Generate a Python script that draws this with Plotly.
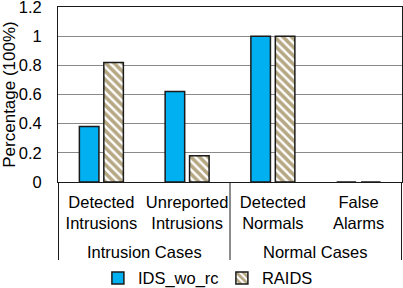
import plotly.graph_objects as go

groups = ["Intrusion Cases", "Intrusion Cases", "Normal Cases", "Normal Cases"]
categories = ["Detected<br>Intrusions", "Unreported<br>Intrusions", "Detected<br>Normals", "False<br>Alarms"]
ids_wo_rc = [0.38, 0.62, 1.0, 0.0]
raids = [0.82, 0.18, 1.0, 0.0]
y_ticks = [0, 0.2, 0.4, 0.6, 0.8, 1, 1.2]
y_ticktext = ["0", "0.2", "0.4", "0.6", "0.8", "1", "1.2"]

font = "Liberation Sans, Arial, sans-serif"

fig = go.Figure()
fig.add_trace(go.Bar(
    x=categories, y=ids_wo_rc, name="IDS_wo_rc",
    marker=dict(color="#00B0F0", line=dict(color="#1a1a1a", width=1.5)),
))
fig.add_trace(go.Bar(
    x=categories, y=raids, name="RAIDS",
    marker=dict(color="white", line=dict(color="#1a1a1a", width=1.5),
                pattern=dict(shape="\\", fgcolor="#6E520A", bgcolor="white",
                             size=6, solidity=0.6)),
))

# group labels and dividers derived from the group list
unique_groups = list(dict.fromkeys(groups))
boundaries = [-0.5]
for g in unique_groups:
    idx = [i for i, gg in enumerate(groups) if gg == g]
    boundaries.append(max(idx) + 0.5)
    fig.add_annotation(x=sum(idx) / len(idx), xref="x", y=-0.40, yref="paper",
                       text=g, showarrow=False, yanchor="middle",
                       font=dict(size=16.5, family=font, color="black"))
for b in boundaries:
    fig.add_shape(type="line", xref="x", yref="paper", x0=b, x1=b, y0=0, y1=-0.446,
                  line=dict(color="#1a1a1a", width=1))

fig.update_layout(
    width=403, height=288,
    margin=dict(l=58, r=1, t=7, b=106, autoexpand=False),
    paper_bgcolor="white", plot_bgcolor="white",
    font=dict(family=font, size=16.5, color="black"),
    barmode="group", bargap=0.43, bargroupgap=0.2,
    showlegend=True,
    legend=dict(orientation="h", x=0.116, xanchor="left", y=-0.55, yanchor="middle",
                font=dict(size=16.5), traceorder="normal", entrywidth=79,
                tracegroupgap=0),
)
fig.update_yaxes(
    range=[0, 1.2], tickvals=y_ticks, ticktext=y_ticktext,
    showgrid=True, gridcolor="#8a8a8a", gridwidth=1,
    showline=True, linecolor="#1a1a1a", linewidth=1, mirror=True,
    ticks="", zeroline=False, automargin=False, ticklabelstandoff=12,
    ticklabeloverflow="allow",
    title=dict(text="Percentage (100%)", font=dict(size=17), standoff=2),
)
fig.update_xaxes(
    type="category", automargin=False, tickangle=0,
    showline=True, linecolor="#1a1a1a", linewidth=1, mirror=True,
    ticks="", tickfont=dict(size=16.5), ticklabelstandoff=5,
)

fig.write_html("out.html", config={"displayModeBar": False},
               post_script="document.body.style.margin='0';")
